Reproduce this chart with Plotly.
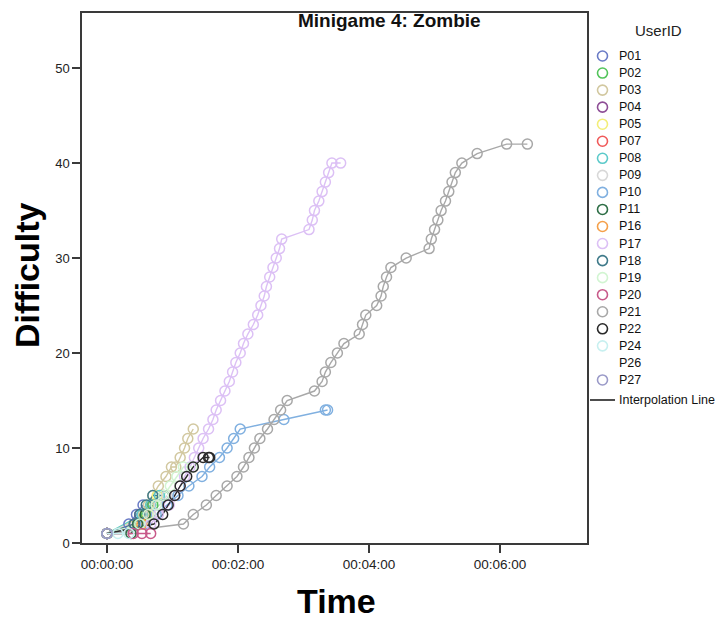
import plotly.graph_objects as go

# ---- data (time in seconds, difficulty level) ----
users = ["P01", "P02", "P03", "P04", "P05", "P07", "P08", "P09", "P10", "P11",
         "P16", "P17", "P18", "P19", "P20", "P21", "P22", "P24", "P26", "P27"]

colors = {
    "P01": "#6A7BC6", "P02": "#52C45A", "P03": "#D2C8A0", "P04": "#8E4E96",
    "P05": "#F3EE78", "P07": "#F05A5A", "P08": "#5CCACA", "P09": "#D8D8D8",
    "P10": "#80B0E0", "P11": "#2E6E46", "P16": "#F5A04A", "P17": "#DCC0F5",
    "P18": "#3F7A8A", "P19": "#D2F5D2", "P20": "#C85A8A", "P21": "#A8A8A8",
    "P22": "#2A2A2A", "P24": "#C8F0F0", "P26": "rgba(0,0,0,0)", "P27": "#9A9AC8",
}

P01_t = [0, 20, 27, 33]
P01_d = [1, 2, 3, 4]
P02_t = [0, 30, 36, 42]
P02_d = [1, 2, 3, 4]
P03_t = [0, 28, 33, 38, 42, 47, 54, 59, 63, 67, 71, 74, 79]
P03_d = [1, 2, 3, 4, 5, 6, 7, 8, 8, 9, 10, 11, 12]
P04_t = [0, 25, 30]
P04_d = [1, 2, 3]
P05_t = [0, 35, 40, 46]
P05_d = [1, 3, 4, 5]
P07_t = [0, 35]
P07_d = [1, 2]
P08_t = [0, 32, 40, 48]
P08_d = [1, 3, 4, 5]
P09_t = [0, 40, 48, 55]
P09_d = [1, 3, 4, 5]
P10_t = [0, 35, 45, 55, 65, 75, 87, 94, 103, 110, 116, 122, 162, 200, 202]
P10_d = [1, 2, 3, 4, 5, 6, 7, 8, 9, 10, 11, 12, 13, 14, 14]
P11_t = [0, 22, 28, 35]
P11_d = [1, 1, 2, 3]
P16_t = [0, 32, 38]
P16_d = [1, 2, 3]
P17_t = [0, 40, 47, 57, 62, 67, 71, 76, 80, 84, 88, 93, 97, 100, 104, 108, 112, 115,
         118, 122, 125, 129, 134, 138, 141, 144, 146, 149, 152, 155, 158, 160,
         185, 188, 190, 194, 197, 200, 203, 206, 214]
P17_d = [1, 2, 3, 4, 5, 6, 7, 8, 9, 10, 11, 12, 13, 14, 15, 16, 17, 18,
         19, 20, 21, 22, 23, 24, 25, 26, 27, 28, 29, 30, 31, 32,
         33, 34, 35, 36, 37, 38, 39, 40, 40]
P18_t = [0, 25, 30, 36, 42, 52]
P18_d = [1, 2, 3, 4, 5, 5]
P19_t = [0, 30, 38, 45, 52, 58, 64, 70, 78]
P19_d = [1, 2, 3, 4, 5, 6, 7, 8, 8]
P20_t = [0, 24, 32, 40]
P20_d = [1, 1, 1, 1]
P21_t = [0, 70, 79, 91, 100, 110, 119, 125, 130, 135, 140, 147, 153, 159, 165,
         190, 197, 200, 205, 211, 217, 231, 234, 237, 247, 251, 253, 256, 260,
         274, 295, 297, 300, 303, 306, 310, 313, 316, 319, 325, 339, 366, 385]
P21_d = [1, 2, 3, 4, 5, 6, 7, 8, 9, 10, 11, 12, 13, 14, 15,
         16, 17, 18, 19, 20, 21, 22, 23, 24, 25, 26, 27, 28, 29,
         30, 31, 32, 33, 34, 35, 36, 37, 38, 39, 40, 41, 42, 42]
P22_t = [0, 43, 51, 56, 62, 67, 73, 79, 88, 93, 94]
P22_d = [1, 2, 3, 4, 5, 6, 7, 8, 9, 9, 9]
P24_t = [0, 10, 20]
P24_d = [1, 1, 1]
P26_t = []
P26_d = []
P27_t = [0]
P27_d = [1]

series = {
    "P01": (P01_t, P01_d), "P02": (P02_t, P02_d), "P03": (P03_t, P03_d),
    "P04": (P04_t, P04_d), "P05": (P05_t, P05_d), "P07": (P07_t, P07_d),
    "P08": (P08_t, P08_d), "P09": (P09_t, P09_d), "P10": (P10_t, P10_d),
    "P11": (P11_t, P11_d), "P16": (P16_t, P16_d), "P17": (P17_t, P17_d),
    "P18": (P18_t, P18_d), "P19": (P19_t, P19_d), "P20": (P20_t, P20_d),
    "P21": (P21_t, P21_d), "P22": (P22_t, P22_d), "P24": (P24_t, P24_d),
    "P26": (P26_t, P26_d), "P27": (P27_t, P27_d),
}

tick_vals = [0, 120, 240, 360]
tick_text = ["00:00:00", "00:02:00", "00:04:00", "00:06:00"]

FONT = "Liberation Sans, Arial, sans-serif"

# ---- layout geometry (pixels) ----
W, H = 722, 621
ML, MR, MT, MB = 82, 135, 13, 78
PW, PH = W - ML - MR, H - MT - MB


def px_x(X):
    return (X - ML) / PW


def px_y(Y):
    return (H - MB - Y) / PH


fig = go.Figure()

# interpolation lines first
for u in users:
    t, d = series[u]
    if len(t) > 1:
        fig.add_trace(go.Scatter(x=t, y=d, mode="lines", showlegend=False,
                                 line=dict(color=colors[u], width=1.4),
                                 name=u, hoverinfo="skip"))
# markers
for u in users:
    t, d = series[u]
    if len(t):
        fig.add_trace(go.Scatter(x=t, y=d, mode="markers", name=u, showlegend=False,
                                 marker=dict(symbol="circle-open", size=10,
                                             color=colors[u],
                                             line=dict(width=1.5, color=colors[u]))))

# ---- custom legend (shapes + text) ----
shapes = []
annotations = []
LEG_CX, LEG_TX, LEG_Y0, LEG_DY = 602.5, 617, 56, 17.05
annotations.append(dict(text="UserID", x=px_x(658), y=px_y(31), xref="paper", yref="paper",
                        xanchor="center", yanchor="middle", showarrow=False,
                        font=dict(size=15, color="#222", family=FONT)))
for i, u in enumerate(users):
    cy = LEG_Y0 + LEG_DY * i
    if u != "P26":
        shapes.append(dict(type="circle", xref="paper", yref="paper",
                           xsizemode="pixel", ysizemode="pixel",
                           xanchor=px_x(LEG_CX), yanchor=px_y(cy),
                           x0=-5, x1=5, y0=-5, y1=5,
                           line=dict(color=colors[u], width=1.6)))
    annotations.append(dict(text=u, x=px_x(LEG_TX), y=px_y(cy), xref="paper", yref="paper",
                            xanchor="left", yanchor="middle", showarrow=False,
                            font=dict(size=12.5, color="#111", family=FONT)))
iy = 400
shapes.append(dict(type="line", xref="paper", yref="paper",
                   x0=px_x(590), x1=px_x(615), y0=px_y(iy), y1=px_y(iy),
                   line=dict(color="black", width=1.4)))
annotations.append(dict(text="Interpolation Line", x=px_x(617), y=px_y(iy), xref="paper",
                        yref="paper", xanchor="left", yanchor="middle", showarrow=False,
                        font=dict(size=12.5, color="#111", family=FONT)))

annotations += [
    dict(text="<b>Minigame 4: Zombie</b>", x=px_x(389), y=px_y(20), xref="paper", yref="paper",
         xanchor="center", yanchor="middle", showarrow=False,
         font=dict(size=19, color="#111", family=FONT)),
    dict(text="<b>Difficulty</b>", x=px_x(27), y=px_y(275), xref="paper", yref="paper",
         textangle=-90, xanchor="center", yanchor="middle", showarrow=False,
         font=dict(size=34, color="black", family=FONT)),
    dict(text="<b>Time</b>", x=px_x(336), y=px_y(601), xref="paper", yref="paper",
         xanchor="center", yanchor="middle", showarrow=False,
         font=dict(size=34, color="black", family=FONT)),
]

fig.update_layout(
    width=W, height=H,
    margin=dict(l=ML, r=MR, t=MT, b=MB, autoexpand=False),
    paper_bgcolor="white", plot_bgcolor="white",
    font=dict(family=FONT, size=12, color="#222"),
    showlegend=False,
    xaxis=dict(
        range=[-22.9, 439.6], tickvals=tick_vals, ticktext=tick_text,
        showgrid=False, zeroline=False, showline=True, mirror=True,
        linecolor="#3a3a3a", linewidth=1.5, ticks="outside", ticklen=8, tickwidth=1.5,
        tickcolor="#3a3a3a", tickfont=dict(size=13.5, color="#222"),
    ),
    yaxis=dict(
        range=[0, 55.8], tickvals=[0, 10, 20, 30, 40, 50],
        showgrid=False, zeroline=False, showline=True, mirror=True,
        linecolor="#3a3a3a", linewidth=1.5, ticks="outside", ticklen=8, tickwidth=1.5,
        tickcolor="#3a3a3a", tickfont=dict(size=13, color="#222"),
    ),
    shapes=shapes,
    annotations=annotations,
)

fig.write_html("out.html")
